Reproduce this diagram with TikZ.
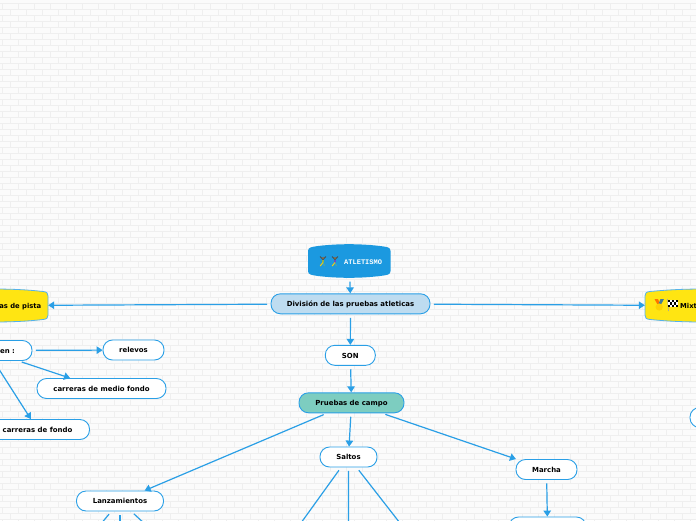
\documentclass[tikz,border=0pt]{standalone}
\usepackage{fontspec}
\setmainfont{DejaVu Sans}
\newfontfamily\titlefont{Liberation Mono}
\usetikzlibrary{arrows.meta}
\definecolor{linkblue}{HTML}{2A9FE6}
\definecolor{topblue}{HTML}{1B99E0}
\definecolor{divfill}{HTML}{BEDCF0}
\definecolor{campofill}{HTML}{7DCDC0}
\definecolor{sunny}{HTML}{FFE512}
\definecolor{brickbg}{HTML}{FBFBFB}
\definecolor{joint}{HTML}{EFEFEF}
\tikzset{
  x=1pt,y=-1pt,
  labelbox/.style={draw=linkblue,line width=0.9pt,rounded corners=9.5pt,fill=white,minimum height=20pt,inner xsep=0pt,inner ysep=0pt,
    text height=5.6pt,text depth=0pt,font=\bfseries\fontsize{6.95}{8}\selectfont,text=black},
  plainlabel/.style={inner sep=0pt,text height=5.6pt,text depth=0pt,font=\bfseries\fontsize{6.8}{8}\selectfont,text=black},
  link/.style={draw=linkblue,line width=1.2pt,shorten <=3.5pt,-{Triangle[length=6pt,width=7.5pt]}},
  linkfree/.style={draw=linkblue,line width=1.2pt,shorten <=3.5pt},
  capsule/.style={draw=linkblue!80,line width=0.8pt,fill=sunny},
  brickline/.style={draw=joint,line width=0.7pt},
}
\begin{document}
\begin{tikzpicture}
\useasboundingbox (0,0) rectangle (696,520);
\fill[brickbg] (0,0) rectangle (696,520);
% brick wall
\foreach \r in {0,...,86}{
  \pgfmathsetmacro\yy{3.4+6*\r}
  \draw[brickline] (0,\yy) -- (696,\yy);
  \pgfmathsetmacro\off{mod(\r,2)*8}
  \foreach \c in {0,...,44}{
    \pgfmathsetmacro\xx{\off+\c*16+2}
    \draw[brickline] (\xx,\yy) -- (\xx,\yy+6);
  }
}
% shaped nodes
\fill[topblue] (308,251) .. controls (308,247) and (312,247) .. (318,246) .. controls (338,243.6) and (360,243.6) .. (380,246) .. controls (387,247) and (390.5,247) .. (390.5,251)
  -- (390.5,271) .. controls (390.5,275) and (387,275) .. (380,276) .. controls (360,278.4) and (338,278.4) .. (318,276) .. controls (312,275) and (308,275) .. (308,271) -- cycle;
\path[capsule] (-8,289) .. controls (15,289) and (30,290) .. (43,291.5) .. controls (47,292) and (48,293) .. (48,296)
  -- (48,315) .. controls (48,318) and (47,319) .. (43,319.5) .. controls (30,321) and (15,322) .. (-8,322) -- cycle;
\path[capsule] (704,289) .. controls (681,289) and (666,290) .. (650,291.5) .. controls (646,292) and (645,293) .. (645,296)
  -- (645,315) .. controls (645,318) and (646,319) .. (650,319.5) .. controls (666,321) and (681,322) .. (704,322) -- cycle;
% nodes
\node[inner sep=0pt,minimum width=82pt,minimum height=34pt] (atl) at (349.5,261) {};
\node[inner sep=0pt,font=\titlefont\bfseries\fontsize{7}{8}\selectfont,text=white,anchor=west] (atltxt) at (344,261.8) {ATLETISMO};
\node[labelbox,fill=divfill,minimum width=159pt] (div) at (350.5,303.8) {División de las pruebas atleticas};
\node[inner sep=0pt,minimum width=98pt,minimum height=33pt] (pistabox) at (-1,305.5) {};
\node[plainlabel,anchor=east] (pista) at (41.5,305.3) {as de pista};
\node[inner sep=0pt,minimum width=102pt,minimum height=33pt] (mixtbox) at (696,305.5) {};
\node[plainlabel,anchor=west] (mixt) at (680,305.3) {Mixt};
\node[labelbox,minimum width=90pt,text width=56pt,inner xsep=17pt,align=right] (en) at (-13,350.5) {en :};
\node[labelbox,minimum width=61pt] (relevos) at (133.5,350) {relevos};
\node[labelbox,minimum width=129pt] (medio) at (101.5,388.5) {carreras de medio fondo};
\node[labelbox,minimum width=104pt] (fondo) at (37.5,429.5) {carreras de fondo};
\node[labelbox,minimum width=50pt] (son) at (350.3,355.3) {SON};
\node[labelbox,fill=campofill,minimum width=105pt] (campo) at (351.5,402.8) {Pruebas de campo};
\node[labelbox,minimum width=57pt] (saltos) at (348.5,457) {Saltos};
\node[labelbox,minimum width=61pt] (marcha) at (546.5,469.5) {Marcha};
\node[labelbox,minimum width=87pt] (lanz) at (120,501) {Lanzamientos};
\node[labelbox,minimum width=77pt] (mbelow) at (547.5,527) {};
\node[labelbox,minimum width=40pt] (rbox) at (710,417.5) {};
% free ends
\coordinate (s1) at (299.5,525);
\coordinate (s2) at (348.4,525);
\coordinate (s3) at (401.5,525);
\coordinate (l1) at (100,525);
\coordinate (l2) at (120,525);
\coordinate (l3) at (146,525);
% connectors
\draw[link] (atl) -- (div);
\draw[link] (div) -- (pistabox);
\draw[link] (div) -- (mixtbox);
\draw[link] (div) -- (son);
\draw[link] (son) -- (campo);
\draw[link] (en) -- (relevos);
\draw[link] (en) -- (medio);
\draw[link] (en) -- (fondo);
\draw[link] (campo) -- (lanz);
\draw[link] (campo) -- (saltos);
\draw[link] (campo) -- (marcha);
\draw[link] (marcha) -- (mbelow);
\draw[linkfree] (saltos) -- (s1);
\draw[linkfree] (saltos) -- (s2);
\draw[linkfree] (saltos) -- (s3);
\draw[linkfree] (lanz) -- (l1);
\draw[linkfree] (lanz) -- (l2);
\draw[linkfree] (lanz) -- (l3);
% runner icons
\foreach \px/\body in {323/8FB04A,335/6A4AC8}{
  \definecolor{bodyc}{HTML}{\body}
  \begin{scope}[shift={(\px,261)}]
    \draw[line width=1.3pt,draw=bodyc] (0,-1) -- (0,1.5);
    \draw[line width=0.9pt,draw=black!70] (0,-1.5) -- (-3,-4.5);
    \draw[line width=0.9pt,draw=black!70] (0,-1.5) -- (3,-4.5);
    \draw[line width=1pt,draw=yellow!70!orange] (0,1.5) -- (-2.8,5);
    \draw[line width=1pt,draw=teal!70] (0,1.5) -- (1.5,5);
    \fill[brown!80!black] (0,-3) circle (1.1pt);
  \end{scope}
}
% medal icon
\fill[orange!90!red] (654.5,299) -- (658,299) -- (660,304) -- (658,305.5) -- cycle;
\fill[black!45!cyan] (664,299) -- (660.5,299) -- (658.5,304) -- (660.5,305.5) -- cycle;
\fill[yellow!70!orange] (659.2,307) circle (3.6pt);
% flag icon
\draw[black!35,line width=0.6pt] (667.5,299) -- (668.5,311);
\fill[white] (668,299.5) rectangle (678,307);
\foreach \i/\j in {0/0,2/0,4/0,1/1,3/1,0/2,2/2,4/2}{
  \fill[black] (668+2*\i,299.5+2.5*\j) rectangle (670+2*\i,302+2.5*\j);
}
\end{tikzpicture}
\end{document}
